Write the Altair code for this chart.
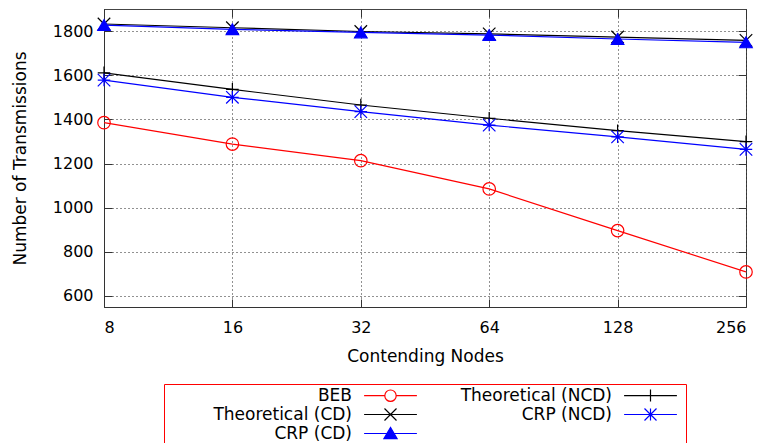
import altair as alt
import pandas as pd

# ---- data ----
nodes = [8, 16, 32, 64, 128, 256]
beb = [1385, 1288, 1213, 1085, 896, 709]
theo_cd = [1832, 1815, 1798, 1787, 1773, 1758]
crp_cd = [1827, 1808, 1794, 1782, 1764, 1749]
theo_ncd = [1611, 1536, 1465, 1405, 1349, 1299]
crp_ncd = [1578, 1500, 1435, 1374, 1321, 1264]

series_names = ["BEB", "Theoretical (CD)", "CRP (CD)", "Theoretical (NCD)", "CRP (NCD)"]
series_values = [beb, theo_cd, crp_cd, theo_ncd, crp_ncd]
y_ticks = [600, 800, 1000, 1200, 1400, 1600, 1800]

# ---- styles ----
series_colors = ["#ff0000", "#000000", "#0000ff", "#000000", "#0000ff"]
series_fills = ["transparent", "transparent", "#0000ff", "transparent", "transparent"]
PLUS = "M-1,0H1M0,-1V1"
CROSS = "M-1,-1L1,1M-1,1L1,-1"
STAR = PLUS + CROSS
plot_shapes = ["circle", CROSS, "triangle-up", PLUS, STAR]
LINE = "M-4.4,0H4.4"
PAD = "M5.0,0"
legend_shapes = [
    "M-4.4,0H-0.95M0.95,0H4.4M0.95,0A0.95,0.95,0,1,1,-0.95,0A0.95,0.95,0,1,1,0.95,0" + PAD,
    LINE + CROSS + PAD,
    LINE + "M0,-1L-1.1,0.85L1.1,0.85Z" + PAD,
    LINE + PLUS + PAD,
    LINE + STAR + PAD,
]
FONT = "DejaVu Sans"

rows = []
for name, vals in zip(series_names, series_values):
    for n, v in zip(nodes, vals):
        rows.append({"nodes": n, "value": v, "series": name})
df = pd.DataFrame(rows)

xscale = alt.Scale(type="log", base=2, domain=[8, 256], nice=False)
yscale = alt.Scale(domain=[550, 1900], nice=False, zero=False)

main_x_axis = alt.Axis(values=nodes, format="d", title="Contending Nodes", grid=True,
                       gridDash=[1, 3], gridColor="#222", gridWidth=1, ticks=False, tickSize=0,
                       labelPadding=12, titlePadding=13, domainColor="#333")
main_y_axis = alt.Axis(values=y_ticks, format="d", title="Number of Transmissions", grid=True,
                       gridDash=[1, 3], gridColor="#222", gridWidth=1, ticks=False, tickSize=0,
                       labelPadding=11, titlePadding=23, domainColor="#333")


def tick_axis(orient, values):
    return alt.Axis(orient=orient, values=values, labels=False, domain=False, grid=False,
                    ticks=True, tickSize=8, offset=-8, tickColor="#333", title=None)


color_scale = alt.Scale(domain=series_names, range=series_colors)
fill_scale = alt.Scale(domain=series_names, range=series_fills)

lines = alt.Chart(df).mark_line(strokeWidth=1.2, clip=True).encode(
    x=alt.X("nodes:Q", scale=xscale, axis=main_x_axis),
    y=alt.Y("value:Q", scale=yscale, axis=main_y_axis),
    color=alt.Color("series:N", scale=color_scale, legend=None),
    detail="series:N",
)

points = alt.Chart(df).mark_point(size=156, strokeWidth=1.2, opacity=1, clip=False).encode(
    x=alt.X("nodes:Q", scale=xscale, axis=tick_axis("top", nodes)),
    y=alt.Y("value:Q", scale=yscale, axis=tick_axis("right", y_ticks)),
    color=alt.Color("series:N", scale=color_scale, legend=None),
    fill=alt.Fill("series:N", scale=fill_scale, legend=None),
    shape=alt.Shape("series:N", scale=alt.Scale(domain=series_names, range=plot_shapes), legend=None),
)

legend_def = dict(
    orient="none", legendX=60, legendY=375, columns=2, title=None,
    labelAlign="right", labelOffset={"expr": "-47"}, symbolOffset=215, labelFontSize=17,
    labelFont=FONT, labelColor="black", labelLimit=400, symbolSize=144, symbolStrokeWidth=1.2,
    symbolFillColor="transparent", strokeColor="#ff0000", fillColor="white", padding=3,
    rowPadding=1, columnPadding=4,
)

legend_layer = alt.Chart(df).transform_filter("false").mark_point(size=144, strokeWidth=1.2, opacity=1).encode(
    x=alt.X("nodes:Q", scale=xscale, axis=tick_axis("bottom", nodes)),
    y=alt.Y("value:Q", scale=yscale, axis=tick_axis("left", y_ticks)),
    color=alt.Color("series:N", scale=color_scale, legend=alt.Legend(**legend_def)),
    fill=alt.Fill("series:N", scale=fill_scale, legend=alt.Legend(**legend_def)),
    shape=alt.Shape("series:N", scale=alt.Scale(domain=series_names, range=legend_shapes),
                    legend=alt.Legend(**legend_def)),
)

chart = alt.layer(lines, points, legend_layer).resolve_scale(
    color="independent", fill="independent", shape="independent"
).resolve_axis(
    x="independent", y="independent"
).properties(
    width=642, height=298,
    autosize=alt.AutoSizeParams(type="none"),
    padding={"left": 96, "top": 1, "right": 9, "bottom": 136},
).configure_view(
    stroke="#444", strokeWidth=1
).configure_axis(
    labelFont=FONT, labelFontSize=16, labelColor="black",
    titleFont=FONT, titleFontSize=17, titleFontWeight="normal", titleColor="black",
)

chart.save("out.html", embed_options={"renderer": "svg", "actions": False})
